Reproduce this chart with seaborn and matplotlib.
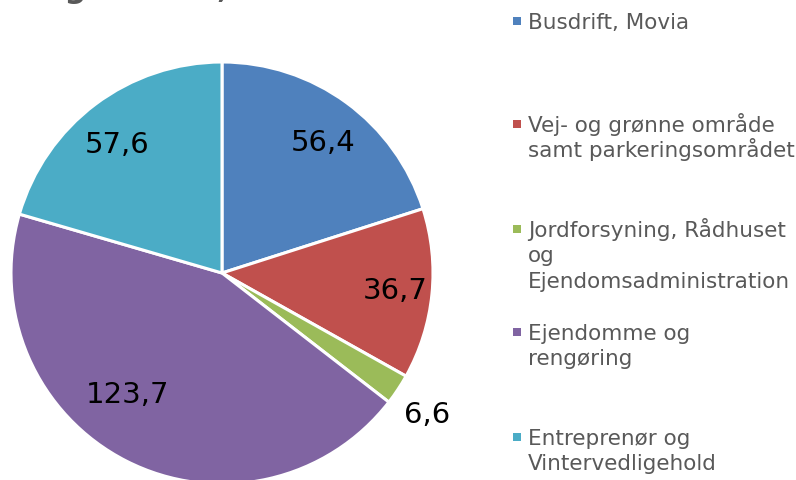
import numpy as np
import matplotlib
matplotlib.use('Agg')
import matplotlib.pyplot as plt
import seaborn as sns
from matplotlib.patches import Rectangle

sns.set_theme(style='white')
plt.rcParams['font.family'] = ['DejaVu Sans']

# =====
# DATA
# =====
categories = ['Busdrift, Movia',
              'Vej- og grønne område\nsamt parkeringsområdet',
              'Jordforsyning, Rådhuset\nog\nEjendomsadministration',
              'Ejendomme og\nrengøring',
              'Entreprenør og\nVintervedligehold']
values = [56.4, 36.7, 6.6, 123.7, 57.6]
value_labels = ['56,4', '36,7', '6,6', '123,7', '57,6']
colors = sns.color_palette(['#4F81BD', '#C0504D', '#9BBB59', '#8064A2', '#4BACC6'])

# label placement (fraction of radius, angle nudge in degrees)
label_dist = [0.785, 0.825, 1.18, 0.73, 0.79]
label_nudge = [-1.5, 0.0, -1.0, -11.0, 2.2]

W, H = 796, 481
fig = plt.figure(figsize=(W / 100, H / 100), dpi=100)

cx, cy, r = 222, 274, 211
ax = fig.add_axes([(cx - r) / W, (H - cy - r) / H, 2 * r / W, 2 * r / H])
wedges, _ = ax.pie(values, colors=colors, startangle=90, counterclock=False,
                   wedgeprops={'edgecolor': 'white', 'linewidth': 2.2})
ax.set_aspect('equal')
ax.set_xlim(-1, 1)
ax.set_ylim(-1, 1)

for w, txt, d, nd in zip(wedges, value_labels, label_dist, label_nudge):
    ang = np.deg2rad((w.theta1 + w.theta2) / 2 + nd)
    ax.text(d * np.cos(ang), d * np.sin(ang), txt, ha='center', va='center',
            fontsize=21, color='black')

# cropped title at the top edge (only the bottom of the glyphs is visible)
fig.text(-0.002, (H + 2) / H, 'Budget 2014, mio. kr.', fontsize=22,
         fontweight='bold', color='#595959', va='baseline', ha='left')

# legend
leg_base = [29, 132, 237, 340, 445]
line_h = 25.3
for cat, col, by in zip(categories, colors, leg_base):
    fig.patches.append(Rectangle((513 / W, (H - by + 3) / H), 8 / W, 8 / H,
                                 transform=fig.transFigure, facecolor=col,
                                 edgecolor='none'))
    for i, line in enumerate(cat.split('\n')):
        fig.text(528 / W, (H - by - i * line_h) / H, line, fontsize=15.5,
                 color='#595959', va='baseline', ha='left')

plt.savefig('out.png', dpi=100)
plt.close()
